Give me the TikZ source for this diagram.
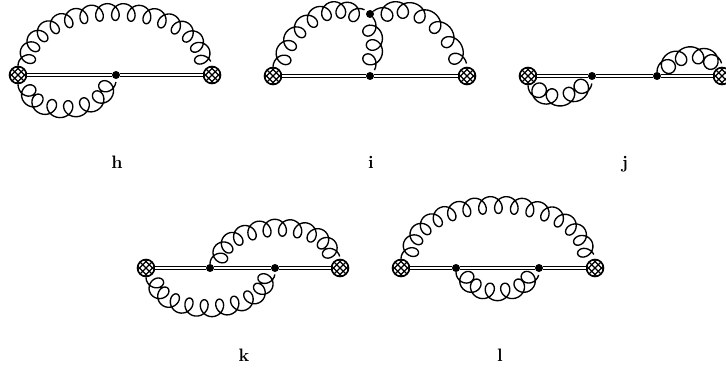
\documentclass[tikz,border=0pt]{standalone}
\usetikzlibrary{decorations}
\def\glh{17}
\def\glb{0.43}
\def\glN{10}
\def\glS{24}
\pgfdeclaredecoration{gloop}{run}{
  \state{run}[width=\pgfdecoratedpathlength/\glN/\glS,next state=run,
    switch if less than=\pgfdecoratedpathlength/\glN/\glS/2 to fin]{%
    \pgfmathsetmacro\glL{\pgfdecoratedpathlength/\glN}%
    \pgfmathsetmacro\glt{\pgfdecoratedcompleteddistance/\glL*6.28319}%
    \pgfpathlineto{\pgfpoint
      {\glL*\glb*sin(\glt r)*1pt}
      {-\glh*0.5*(1-cos(\glt r))*1pt}}}
  \state{fin}{\pgfpathlineto{\pgfpointdecoratedpathlast}}
}
\tikzset{
  xvert/.style={circle,draw,fill=white,minimum size=17pt,inner sep=0pt,line width=1.6pt,
    path picture={
      \foreach \k in {-6.5,0,6.5}{
        \draw[line width=1.15pt] ([shift={(\k pt,-12pt)}]path picture bounding box.center) ++(-12pt,0pt) -- ++(24pt,24pt);
        \draw[line width=1.15pt] ([shift={(\k pt,-12pt)}]path picture bounding box.center) ++(12pt,0pt) -- ++(-24pt,24pt);
      }}},
  dotv/.style={circle,fill=black,minimum size=8pt,inner sep=0pt},
  wline/.style={draw=black,line width=4.2pt,postaction={draw=white,line width=1.4pt}},
  gluon/.style={line width=1.35pt,line join=round,decorate,decoration={gloop},/utils/exec={\def\glN{#1}}},
  gluonb/.style={line width=1.35pt,line join=round,decorate,decoration={gloop,mirror},/utils/exec={\def\glN{#1}}},
  lab/.style={font=\fontsize{18}{20}\selectfont\bfseries,inner sep=0pt}
}
\begin{document}
\begin{tikzpicture}[x=1pt,y=-1pt]
\useasboundingbox (0,0) rectangle (726,369);
% h
\node[xvert] (ha) at (18,75) {};
\node[xvert] (hb) at (212,75) {};
\node[dotv] (hm) at (116,75) {};
\draw[wline] (ha) -- (hm);
\draw[wline] (hm) -- (hb);
\draw[gluon=15] (ha.north) to[out=90,in=90,distance=83pt] (hb.north);
\draw[gluonb=7] (ha.south) to[out=-90,in=-85,distance=48pt] (hm.south);
\node[lab] (hl) at (117,162) {h};
% i
\node[xvert] (ia) at (273,76) {};
\node[xvert] (ib) at (467,76) {};
\node[dotv] (im) at (370,76) {};
\node[dotv] (it) at (370,14) {};
\draw[wline] (ia) -- (im);
\draw[wline] (im) -- (ib);
\draw[gluon=7] (ia.north) to[out=88,in=140,out distance=40pt,in distance=48pt] (it);
\draw[gluon=6] (it) to[out=40,in=92,out distance=48pt,in distance=40pt] (ib.north);
\draw[gluon=3] (it) to[out=-50,in=50,distance=22pt] (im);
\node[lab] (il) at (371,162) {i};
% j
\node[xvert] (ja) at (528,76) {};
\node[xvert] (jb) at (722,76) {};
\node[dotv] (jm) at (592,76) {};
\node[dotv] (jn) at (657,76) {};
\draw[wline] (ja) -- (jm);
\draw[wline] (jm) -- (jn);
\draw[wline] (jn) -- (jb);
\draw[gluonb=4] (ja.south) to[out=-90,in=-85,distance=31pt] (jm.south);
\draw[gluon=4] (jn.north) to[out=90,in=90,distance=30pt] (jb.north);
\node[lab] (jl) at (625,164) {j};
% k
\node[xvert] (ka) at (146,268) {};
\node[xvert] (kb) at (340,268) {};
\node[dotv] (km) at (210,268) {};
\node[dotv] (kn) at (275,268) {};
\draw[wline] (ka) -- (km);
\draw[wline] (km) -- (kn);
\draw[wline] (kn) -- (kb);
\draw[gluon=10] (km.north) to[out=90,in=90,distance=56pt] (kb.north);
\draw[gluonb=10] (ka.south) to[out=-90,in=-85,distance=56pt] (kn.south);
\node[lab] (kl) at (244,355) {k};
% l
\node[xvert] (la) at (401,268) {};
\node[xvert] (lb) at (595,268) {};
\node[dotv] (lm) at (456,268) {};
\node[dotv] (ln) at (539,268) {};
\draw[wline] (la) -- (lm);
\draw[wline] (lm) -- (ln);
\draw[wline] (ln) -- (lb);
\draw[gluon=15] (la.north) to[out=90,in=90,distance=83pt] (lb.north);
\draw[gluonb=6] (lm.south) to[out=-90,in=-90,distance=38pt] (ln.south);
\node[lab] (ll) at (500,355) {l};
\end{tikzpicture}
\end{document}
